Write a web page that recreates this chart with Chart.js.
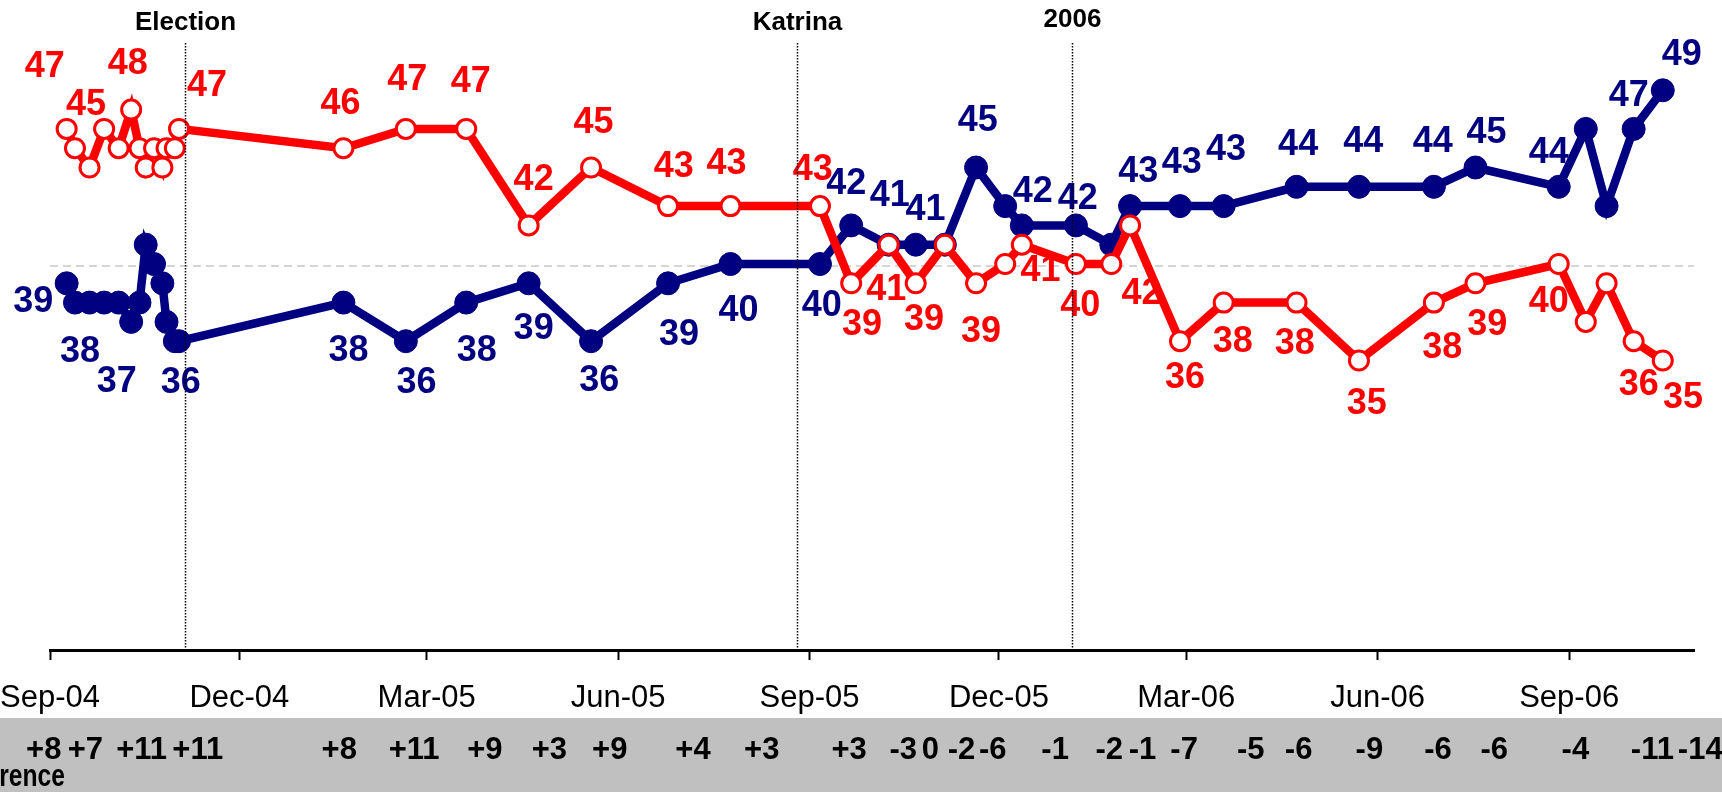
<!DOCTYPE html>
<html>
<head>
<meta charset="utf-8">
<script src="https://cdn.jsdelivr.net/npm/chart.js@4.4.1/dist/chart.umd.min.js"></script>
<style>
  html, body { margin: 0; padding: 0; background: #ffffff; overflow: hidden; }
  #wrap { width: 1722px; height: 792px; position: relative; }
</style>
</head>
<body>
<div id="wrap"><canvas id="c" width="1722" height="792"></canvas></div>
<script>
// ---------------- DATA ----------------
const pollDates = [
  '2004-09-09','2004-09-13','2004-09-20','2004-09-27','2004-10-04','2004-10-10','2004-10-14',
  '2004-10-17','2004-10-21','2004-10-25','2004-10-27','2004-10-31','2004-11-02',
  '2005-01-20','2005-02-19','2005-03-20','2005-04-19','2005-05-19','2005-06-25','2005-07-25',
  '2005-09-06','2005-09-21','2005-10-09','2005-10-22','2005-11-05','2005-11-20','2005-12-04',
  '2005-12-12','2006-01-07','2006-01-24','2006-02-02','2006-02-26','2006-03-19','2006-04-23',
  '2006-05-23','2006-06-28','2006-07-18','2006-08-27','2006-09-09','2006-09-19','2006-10-02',
  '2006-10-16'
];
const republicanValues = [
  47,46,45,47,46,48,46,45,46,45,46,46,47,
  46,47,47,42,45,43,43,
  43,39,41,39,41,39,40,41,40,40,42,
  36,38,38,35,38,39,40,
  37,39,36,35
];
const democratValues = [
  39,38,38,38,38,37,38,41,40,39,37,36,36,
  38,36,38,39,36,39,40,
  40,42,41,41,41,45,43,42,42,41,43,
  43,43,44,44,44,45,44,
  47,43,47,49
];
const tickDates  = ['2004-09-01','2004-12-01','2005-03-01','2005-06-01','2005-09-01','2005-12-01','2006-03-01','2006-06-01','2006-09-01'];
const tickLabels = ['Sep-04','Dec-04','Mar-05','Jun-05','Sep-05','Dec-05','Mar-06','Jun-06','Sep-06'];
const axisStartDate = '2004-09-01';
const axisEndDate   = '2006-10-31';
const yMin = 20, yMax = 50;
const referenceValue = 40;

const eventDates  = ['2004-11-05','2005-08-26','2006-01-05'];
const eventLabels = ['Election','Katrina','2006'];

const diffDates = [
  '2004-08-29','2004-09-18','2004-10-15','2004-11-11','2005-01-18','2005-02-23','2005-03-29',
  '2005-04-29','2005-05-28','2005-07-07','2005-08-09','2005-09-20','2005-10-16','2005-10-29',
  '2005-11-13','2005-11-28','2005-12-28','2006-01-23','2006-02-08','2006-02-28','2006-04-01',
  '2006-04-24','2006-05-28','2006-06-30','2006-07-27','2006-09-04','2006-10-11','2006-11-03'
];
const diffLabels = [
  '+8','+7','+11','+11','+8','+11','+9','+3','+9','+4','+3','+3','-3','0',
  '-2','-6','-1','-2','-1','-7','-5','-6','-9','-6','-6','-4','-11','-14'
];
const bandTitle = 'Difference';

// ---------------- LAYOUT / STYLE (label placement, px offsets from point) ----------------
const redLabelOffsets = [
  [-22,-62], null, [-3.5,-62], null, null, [-3.5,-46], null, null, null, null, null, null, [28,-43],
  [-3,-44], [1.5,-49], [4.6,-47], [5,-45], [2.5,-44], [5.7,-39], [-4,-41.7],
  [-7.3,-35.7], [10.8,41.7], [-2.5,45], [8.3,36.7], null, [5,48.4], null, [18.7,26.7], [4.3,41.6], null, [11.5,68.3],
  [5,36.7], [9,39], [-1.7,41.6], [7.7,43.3], [8.4,45], [11.7,41.7], [-10,37.6],
  null, null, [5,44], [20.3,37.3]
];
const blueLabelOffsets = [
  [-33.5,19], [5,49.3], null, null, null, [-14.3,60], null, null, null, null, null, null, [1.7,41.7],
  [5,48.3], [10.7,41.7], [10.6,48.3], [5,46], [8.3,40], [11,51.7], [8,46.7],
  [1.7,41.6], [-5,-41.7], [1,-48.3], [9.7,-35], null, [1.7,-46.7], null, [11,-33.3], [1.8,-26.7], null, [8.2,-34],
  [1.7,-43.4], [2.4,-55.7], [1.6,-41.6], [4.3,-45], [-1,-45], [11,-34], [-10,-33.3],
  null, null, [-5,-33.3], [19,-35]
];
const eventLabelY = [23, 23, 20];

const RED = '#FF0000';
const BLUE = '#000080';
const FONT = '"Liberation Sans", Arial, Helvetica, sans-serif';

// ---------------- HELPERS ----------------
const DAY0 = Date.parse(axisStartDate + 'T00:00:00Z');
const toDay = s => (Date.parse(s + 'T00:00:00Z') - DAY0) / 86400000;
const pollDays = pollDates.map(toDay);
const tickDays = tickDates.map(toDay);

const overlay = {
  id: 'overlay',
  beforeDraw(chart) {
    const ctx = chart.ctx;
    ctx.save();
    ctx.fillStyle = '#ffffff';
    ctx.fillRect(0, 0, chart.width, chart.height);
    ctx.fillStyle = '#C0C0C0';
    ctx.fillRect(0, 718, chart.width, chart.height - 718);
    ctx.restore();
  },
  beforeDatasetsDraw(chart) {
    const { ctx, chartArea, scales: { y } } = chart;
    const py = y.getPixelForValue(referenceValue) + 2;
    ctx.save();
    ctx.strokeStyle = '#C8C8C8';
    ctx.lineWidth = 1.5;
    ctx.setLineDash([8, 5]);
    ctx.beginPath();
    ctx.moveTo(chartArea.left, py);
    ctx.lineTo(chartArea.right, py);
    ctx.stroke();
    ctx.restore();
  },
  afterDatasetsDraw(chart) {
    const { ctx, chartArea, scales: { x } } = chart;
    ctx.save();
    // data labels
    ctx.font = 'bold 36px ' + FONT;
    ctx.textAlign = 'center';
    ctx.textBaseline = 'middle';
    const drawLabels = (dsIndex, values, offsets, color) => {
      const meta = chart.getDatasetMeta(dsIndex);
      ctx.fillStyle = color;
      meta.data.forEach((pt, i) => {
        const off = offsets[i];
        if (!off) return;
        ctx.fillText(String(values[i]), pt.x + off[0], pt.y + off[1]);
      });
    };
    drawLabels(1, democratValues, blueLabelOffsets, BLUE);
    drawLabels(0, republicanValues, redLabelOffsets, RED);

    // event lines + labels
    eventDates.forEach((d, i) => {
      const px = Math.round(x.getPixelForValue(toDay(d))) + 0.5;
      ctx.strokeStyle = '#000';
      ctx.lineWidth = 1.5;
      ctx.setLineDash([1.5, 1.5]);
      ctx.beginPath();
      ctx.moveTo(px, 43);
      ctx.lineTo(px, chartArea.bottom);
      ctx.stroke();
      ctx.setLineDash([]);
      ctx.fillStyle = '#000';
      ctx.font = 'bold 26px ' + FONT;
      ctx.fillText(eventLabels[i], px, eventLabelY[i]);
    });

    // difference row
    ctx.fillStyle = '#000';
    ctx.font = 'bold 31px ' + FONT;
    ctx.textBaseline = 'middle';
    diffDates.forEach((d, i) => {
      ctx.fillText(diffLabels[i], x.getPixelForValue(toDay(d)), 750);
    });
    // band title (narrow)
    ctx.save();
    ctx.translate(65, 786);
    ctx.scale(0.77, 1);
    ctx.textAlign = 'right';
    ctx.textBaseline = 'alphabetic';
    ctx.font = 'bold 32px ' + FONT;
    ctx.fillText(bandTitle, 0, 0);
    ctx.restore();
    ctx.restore();
  }
};

new Chart(document.getElementById('c'), {
  type: 'line',
  data: {
    datasets: [
      {
        label: 'Republican',
        data: pollDays.map((d, i) => ({ x: d, y: republicanValues[i] })),
        borderColor: RED,
        borderWidth: 8.5,
        pointRadius: 9.5,
        pointBorderWidth: 3,
        pointBackgroundColor: '#ffffff',
        pointBorderColor: RED,
        tension: 0,
        clip: false
      },
      {
        label: 'Democrat',
        data: pollDays.map((d, i) => ({ x: d, y: democratValues[i] })),
        borderColor: BLUE,
        borderWidth: 8.5,
        pointRadius: 11.5,
        pointBorderWidth: 1,
        pointBackgroundColor: BLUE,
        pointBorderColor: BLUE,
        tension: 0,
        clip: false
      }
    ]
  },
  options: {
    responsive: false,
    animation: false,
    devicePixelRatio: 1,
    events: [],
    layout: { padding: { left: 50, right: 28, top: 71, bottom: 0 } },
    plugins: { legend: { display: false }, tooltip: { enabled: false } },
    scales: {
      x: {
        type: 'linear',
        position: 'bottom',
        min: toDay(axisStartDate),
        max: toDay(axisEndDate),
        grid: { display: true, drawOnChartArea: false, drawTicks: true, tickLength: 10, tickWidth: 2, tickColor: '#000' },
        border: { display: true, color: '#000', width: 3 },
        ticks: {
          autoSkip: false,
          maxRotation: 0,
          minRotation: 0,
          padding: 20,
          color: '#000',
          font: { family: FONT, size: 31 },
          callback: (v, i) => tickLabels[i]
        },
        afterBuildTicks: s => { s.ticks = tickDays.map(v => ({ value: v })); },
        afterFit: s => { s.height = 142; s.paddingLeft = 0; s.paddingRight = 0; }
      },
      y: {
        type: 'linear',
        min: yMin,
        max: yMax,
        display: false
      }
    }
  },
  plugins: [overlay]
});
</script>
</body>
</html>
